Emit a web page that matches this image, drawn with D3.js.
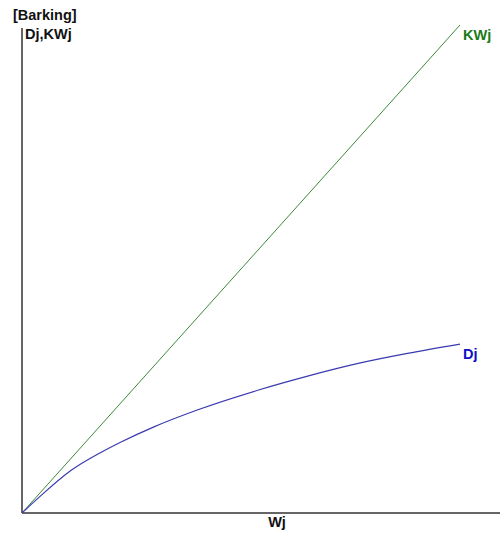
<!DOCTYPE html>
<html>
<head>
<meta charset="utf-8">
<script src="https://cdn.jsdelivr.net/npm/d3@7"></script>
<style>
html, body { margin: 0; padding: 0; background: #fff; }
svg { display: block; }
text { font-family: "Liberation Sans", Arial, sans-serif; font-weight: bold; }
</style>
</head>
<body>
<div id="chart"></div>
<script>
// Data (Wj in arbitrary units, Dj and KWj in same units)
const wjValues = [0, 4, 11, 18, 22.5, 30, 40, 54, 65, 77, 88, 100];
const djValues = [0, 3.3, 8.6, 12.4, 14.5, 17.6, 21.1, 25.2, 28.0, 30.7, 32.7, 34.6];
const kwjWj = [0, 100];
const kwjValues = [0, 100];
const title = "[Barking]";
const yAxisLabel = "Dj,KWj";
const xAxisLabel = "Wj";
const seriesNames = ["KWj", "Dj"];

const W = 500, H = 533;
const svg = d3.select("#chart").append("svg").attr("width", W).attr("height", H);

const x = d3.scaleLinear().domain([0, 100]).range([22, 460]);
const y = d3.scaleLinear().domain([0, 100]).range([513, 25]);

// axes
const xAxis = d3.axisBottom(x).tickValues([]).tickSizeOuter(0);
const yAxis = d3.axisLeft(y).tickValues([]).tickSizeOuter(0);
const gx = svg.append("g").attr("transform", `translate(0,${y(0)})`).call(xAxis);
gx.select(".domain").attr("d", `M${x(0)},0H${W}`).attr("stroke", "#333").attr("stroke-width", 1.5);
const gy = svg.append("g").attr("transform", `translate(${x(0)},0)`).call(yAxis);
gy.select(".domain").attr("d", `M0,${y(0)}V28`).attr("stroke", "#333").attr("stroke-width", 1.5);

// lines
const kwjData = kwjWj.map((w, i) => ({ w, v: kwjValues[i] }));
const djData = wjValues.map((w, i) => ({ w, v: djValues[i] }));

svg.append("path")
  .datum(kwjData)
  .attr("fill", "none")
  .attr("stroke", "#3a8a3a")
  .attr("stroke-width", 1)
  .attr("d", d3.line().x(d => x(d.w)).y(d => y(d.v)));

svg.append("path")
  .datum(djData)
  .attr("fill", "none")
  .attr("stroke", "#3a3ab0")
  .attr("stroke-width", 1.2)
  .attr("d", d3.line().curve(d3.curveMonotoneX).x(d => x(d.w)).y(d => y(d.v)));

// labels
svg.append("text").attr("x", 13).attr("y", 20).attr("font-size", 14.5).attr("fill", "#111").text(title);
svg.append("text").attr("x", 25).attr("y", 39).attr("font-size", 14.5).attr("fill", "#111").text(yAxisLabel);
svg.append("text").attr("x", 277).attr("y", 527).attr("text-anchor", "middle").attr("font-size", 14.5).attr("fill", "#111").text(xAxisLabel);

const lastK = kwjData[kwjData.length - 1];
svg.append("text").attr("x", x(lastK.w) + 3).attr("y", 40).attr("font-size", 14.5).attr("fill", "#1a7a1a").text(seriesNames[0]);
const lastD = djData[djData.length - 1];
svg.append("text").attr("x", x(lastD.w) + 3).attr("y", 359).attr("font-size", 14.5).attr("fill", "#1010c8").text(seriesNames[1]);
</script>
</body>
</html>
